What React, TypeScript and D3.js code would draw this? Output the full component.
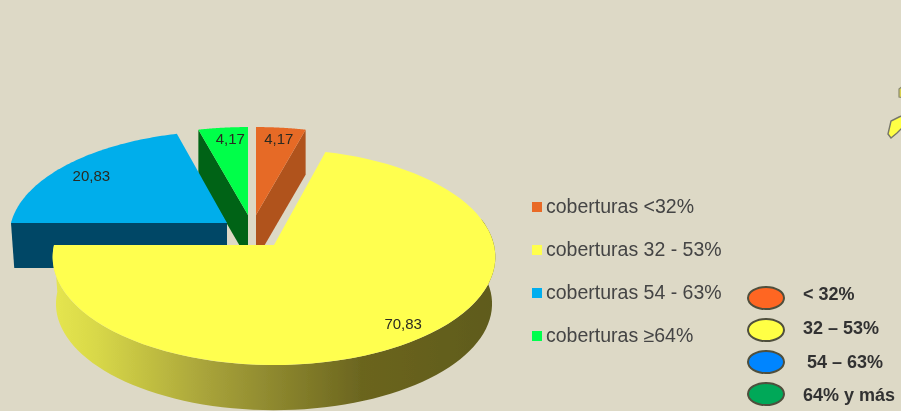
import React from "react";
import * as d3 from "d3";

const categories = ["coberturas <32%", "coberturas 32 - 53%", "coberturas 54 - 63%", "coberturas ≥64%"];
const values = [4.17, 70.83, 20.83, 4.17];
const valueLabels = ["4,17", "70,83", "20,83", "4,17"];
const topColors = ["#e66b28", "#ffff50", "#00aeeb", "#00ff48"];
const sideColors = ["#b0531f", "url(#yellowSide)", "#004766", "#056416"];
const legendColors = ["#e96b28", "#ffff4d", "#00aeef", "#00ff4d"];
const mapLabels = ["< 32%", "32 – 53%", "54 – 63%", "64% y más"];
const mapColors = ["#ff6622", "#ffff44", "#0085ff", "#00a858"];

// Projection of each exploded slice: apex, radius, perspective, vertical scale
const geom = [
  { cx: 256, cy: 215, R: 220, p: 0.154, A: 101.5, lr: 0.9, nx: 0, ny: 3, depth: 45 },
  { cx: 274, cy: 245, R: 220, p: 0.111, A: 106.7, lr: 0.87, nx: 3, ny: -1, depth: 47 },
  { cx: 227, cy: 223, R: 216, p: 0.12, A: 103, lr: 0.84, nx: 0, ny: 2, depth: 45 },
  { cx: 248, cy: 215, R: 220, p: 0.154, A: 101.5, lr: 0.9, nx: 5, ny: 3, depth: 45 },
];
const SHRINK = 0.985;

type G = (typeof geom)[number];
const proj = (g: G, a: number, r = 1): [number, number] => {
  const u = r * Math.sin(a);
  const v = r * Math.cos(a);
  const w = 1 + g.p * v;
  return [g.cx + (g.R * u) / w, g.cy - (g.A * v) / w];
};
const down = (g: G, pt: [number, number]): [number, number] => [
  g.cx + (pt[0] - g.cx) * SHRINK,
  g.cy + (pt[1] - g.cy) * SHRINK + g.depth,
];

const line = d3.line();
const arcs = d3.pie<number>().sort(null).startAngle(0).endAngle(2 * Math.PI)(values);

const sampled = (g: G, a0: number, a1: number) =>
  d3.range(0, 81).map((i) => proj(g, a0 + ((a1 - a0) * i) / 80));

const topPath = (g: G, a0: number, a1: number) =>
  line([[g.cx, g.cy], ...sampled(g, a0, a1)]) + "Z";

function sidePath(i: number, g: G, a0: number, a1: number) {
  if (i === 1) {
    const top = sampled(g, Math.PI * 0.42, a1);
    return line([...top, ...top.map((p) => down(g, p)).reverse()]) + "Z";
  }
  if (i === 2) {
    const L = proj(g, a0);
    const c: [number, number] = [g.cx, g.cy];
    return line([L, c, [g.cx, g.cy + g.depth], down(g, L)]) + "Z";
  }
  // radial cut wall of the small slices
  const edge = proj(g, i === 0 ? a1 : a0);
  const c: [number, number] = [g.cx, g.cy];
  return line([c, edge, [edge[0], edge[1] + g.depth], [g.cx, g.cy + g.depth]]) + "Z";
}

const drawOrder = [0, 3, 2, 1];
const legendY = d3.scalePoint<number>().domain([0, 1, 2, 3]).range([207, 336]);
const mapY = d3.scalePoint<number>().domain([0, 1, 2, 3]).range([298, 394]);
const mapTextY = d3.scalePoint<number>().domain([0, 1, 2, 3]).range([294, 395]);
const mapTextX = [803, 803, 807, 803];
const FONT = "'Liberation Sans', Arial, sans-serif";

export default function App() {
  return (
    <svg
      width={901}
      height={411}
      viewBox="0 0 901 411"
      style={{ position: "fixed", left: 0, top: 0, display: "block" }}
    >
      <defs>
        <linearGradient id="yellowSide" gradientUnits="userSpaceOnUse" x1={52} x2={494} y1={0} y2={0}>
          <stop offset="0" stopColor="#e6e650" />
          <stop offset="0.1" stopColor="#d8d848" />
          <stop offset="0.35" stopColor="#a8a33a" />
          <stop offset="0.7" stopColor="#6b651f" />
          <stop offset="1" stopColor="#5f5b1c" />
        </linearGradient>
        <filter id="soft" x="-2%" y="-2%" width="104%" height="104%">
          <feGaussianBlur stdDeviation="0.75" />
        </filter>
      </defs>
      <rect width={901} height={411} fill="#ddd9c6" />
      <g filter="url(#soft)">
        <path d="M888,134 L891,121 L899,117 L904,115 L904,126 L897,133 L891,138 Z" fill="#ffff44" stroke="#77776a" strokeWidth={1.4} />
        <path d="M899,89 L904,85 L904,98 L899,97 Z" fill="#d8d050" stroke="#8a8a70" strokeWidth={1.2} />

        {drawOrder.map((i) => {
          const g = geom[i];
          const d = arcs[i];
          return (
            <g key={categories[i]}>
              <path d={sidePath(i, g, d.startAngle, d.endAngle)} fill={sideColors[i]} />
              <path d={topPath(g, d.startAngle, d.endAngle)} fill={topColors[i]} />
            </g>
          );
        })}

        {arcs.map((d, i) => {
          const g = geom[i];
          const [x, y] = proj(g, (d.startAngle + d.endAngle) / 2, g.lr);
          return (
            <text key={i} x={x + g.nx} y={y + g.ny} dy="0.36em" textAnchor="middle" fontFamily={FONT} fontSize={15} fill="#2a2a20">
              {valueLabels[i]}
            </text>
          );
        })}

        {categories.map((c, i) => (
          <g key={c}>
            <rect x={532} y={(legendY(i) as number) - 5} width={10} height={10} fill={legendColors[i]} />
            <text x={546} y={(legendY(i) as number) - 1} dy="0.36em" fontFamily={FONT} fontSize={19.5} fill="#444">
              {c}
            </text>
          </g>
        ))}

        {mapLabels.map((c, i) => (
          <g key={c}>
            <ellipse cx={766} cy={mapY(i)} rx={18} ry={11} fill={mapColors[i]} stroke="#4f4f3c" strokeWidth={2} />
            <text x={mapTextX[i]} y={mapTextY(i)} dy="0.36em" fontFamily={FONT} fontWeight="bold" fontSize={18} fill="#333">
              {c}
            </text>
          </g>
        ))}
      </g>
    </svg>
  );
}
